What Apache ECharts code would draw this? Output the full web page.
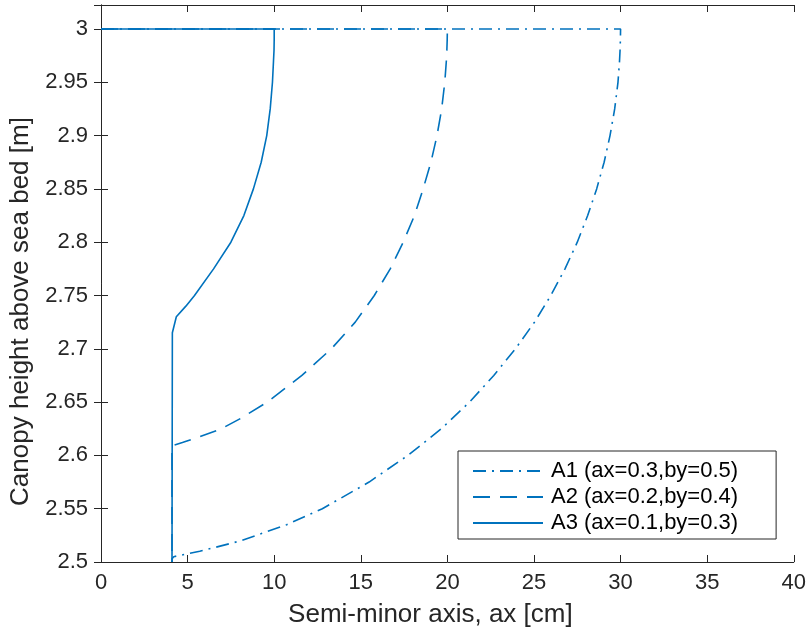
<!DOCTYPE html>
<html>
<head>
<meta charset="utf-8">
<script src="https://cdn.jsdelivr.net/npm/echarts@6/dist/echarts.min.js"></script>
<style>
html,body{margin:0;padding:0;background:#fff;}
#chart{width:809px;height:633px;}
</style>
</head>
<body>
<div id="chart"></div>
<script>
// Series names
var seriesNames = ['A1 (ax=0.3,by=0.5)', 'A2 (ax=0.2,by=0.4)', 'A3 (ax=0.1,by=0.3)'];

// A1: semi-minor axis [cm] vs canopy height [m]
var a1X = [0, 30.0, 29.99, 29.97, 29.94, 29.85, 29.66, 29.39, 29.05, 28.62, 28.1, 27.5, 26.79, 25.97, 25.03, 23.93, 22.68, 21.28, 19.65, 17.72, 15.48, 12.78, 10.72, 8.1, 5.7, 4.2, 4.1, 4.1];
var a1Y = [3.0, 3.0, 2.99, 2.98, 2.97, 2.95, 2.925, 2.9, 2.875, 2.85, 2.825, 2.8, 2.775, 2.75, 2.725, 2.7, 2.675, 2.65, 2.625, 2.6, 2.575, 2.55, 2.535, 2.52, 2.51, 2.505, 2.503, 2.5];

// A2
var a2X = [0, 20.0, 19.99, 19.97, 19.94, 19.85, 19.67, 19.4, 19.05, 18.6, 18.1, 17.45, 16.7, 15.78, 14.68, 13.3, 11.6, 9.6, 8.1, 6.95, 5.6, 4.7, 4.1, 4.1];
var a2Y = [3.0, 3.0, 2.99, 2.98, 2.97, 2.95, 2.925, 2.9, 2.875, 2.85, 2.825, 2.8, 2.775, 2.75, 2.725, 2.7, 2.675, 2.65, 2.635, 2.625, 2.617, 2.612, 2.609, 2.5];

// A3
var a3X = [0, 10.0, 10.0, 9.99, 9.96, 9.9, 9.77, 9.57, 9.25, 8.8, 8.25, 7.5, 6.5, 5.4, 4.9, 4.35, 4.12, 4.1];
var a3Y = [3.0, 3.0, 2.99, 2.98, 2.97, 2.95, 2.925, 2.9, 2.875, 2.85, 2.825, 2.8, 2.775, 2.75, 2.74, 2.73, 2.715, 2.5];

// Axis ticks
var xTicks = [0, 5, 10, 15, 20, 25, 30, 35, 40];
var yTicks = [2.5, 2.55, 2.6, 2.65, 2.7, 2.75, 2.8, 2.85, 2.9, 2.95, 3];

function zip(xs, ys) { return xs.map(function (x, i) { return [x, ys[i]]; }); }

var lineColor = '#0072BD';
var axisColor = '#262626';
var font = 'Liberation Sans, Arial, Helvetica, sans-serif';

var xMin = xTicks[0], xMax = xTicks[xTicks.length - 1];
var yMin = yTicks[0], yMax = 3.0225;

function yFmt(v) {
  var k = v * 20;
  if (Math.abs(k - Math.round(k)) > 1e-6 || v > 3.0001) return '';
  return String(+v.toFixed(2));
}

var chart = echarts.init(document.getElementById('chart'));
chart.setOption({
  animation: false,
  backgroundColor: '#ffffff',
  grid: { left: 101, right: 12, top: 5, bottom: 70, containLabel: false },
  legend: {
    orient: 'vertical',
    left: 458, top: 451,
    itemWidth: 70, itemHeight: 14, itemGap: 4,
    padding: [9, 38, 5, 14],
    borderColor: '#262626', borderWidth: 1, backgroundColor: '#ffffff', borderRadius: 0,
    itemStyle: { opacity: 0 },
    textStyle: { fontSize: 22, color: '#000', fontFamily: font, padding: [0, 0, 0, 3] },
    data: seriesNames
  },
  xAxis: [{
    type: 'value', min: xMin, max: xMax, interval: 5, position: 'bottom',
    name: 'Semi-minor axis, ax [cm]', nameLocation: 'middle', nameGap: 40,
    nameTextStyle: { fontSize: 26, color: axisColor, fontFamily: font, padding: [0, 34, 0, 0] },
    axisLine: { show: true, lineStyle: { color: axisColor, width: 1 } },
    axisTick: { show: true, inside: true, length: 7, lineStyle: { color: axisColor } },
    axisLabel: { fontSize: 22, color: axisColor, fontFamily: font, margin: 10 },
    splitLine: { show: false }
  }, {
    type: 'value', min: xMin, max: xMax, interval: 5, position: 'top',
    axisLine: { show: true, lineStyle: { color: axisColor, width: 1 } },
    axisTick: { show: true, inside: true, length: 7, lineStyle: { color: axisColor } },
    axisLabel: { show: false }, splitLine: { show: false }
  }],
  yAxis: [{
    type: 'value', min: yMin, max: yMax, interval: 0.05, position: 'left',
    name: 'Canopy height above sea bed [m]', nameLocation: 'middle', nameGap: 62,
    nameTextStyle: { fontSize: 26, color: axisColor, fontFamily: font, padding: [0, 56, 0, 0] },
    axisLine: { show: true, lineStyle: { color: axisColor, width: 1 } },
    axisTick: { show: true, inside: true, length: 7, lineStyle: { color: axisColor } },
    axisLabel: { fontSize: 22, color: axisColor, fontFamily: font, margin: 13, formatter: yFmt },
    splitLine: { show: false }
  }, {
    type: 'value', min: yMin, max: yMax, interval: 0.05, position: 'right',
    axisLine: { show: true, lineStyle: { color: axisColor, width: 1 } },
    axisTick: { show: true, inside: true, length: 7, lineStyle: { color: axisColor } },
    axisLabel: { show: false }, splitLine: { show: false }
  }],
  series: [{
    name: seriesNames[0], type: 'line', symbol: 'none', data: zip(a1X, a1Y),
    lineStyle: { color: lineColor, width: 1.6, type: [13, 6, 2, 6] },
    itemStyle: { color: lineColor }
  }, {
    name: seriesNames[1], type: 'line', symbol: 'none', data: zip(a2X, a2Y),
    lineStyle: { color: lineColor, width: 1.6, type: [17, 10] },
    itemStyle: { color: lineColor }
  }, {
    name: seriesNames[2], type: 'line', symbol: 'none', data: zip(a3X, a3Y),
    lineStyle: { color: lineColor, width: 1.6, type: 'solid' },
    itemStyle: { color: lineColor }
  }]
});
</script>
</body>
</html>
